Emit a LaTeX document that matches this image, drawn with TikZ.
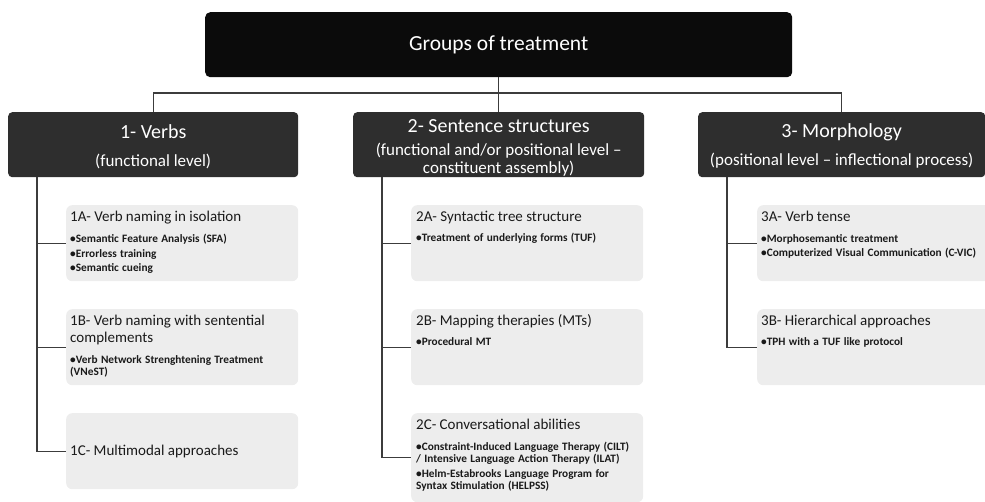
\documentclass[tikz,border=0pt]{standalone}
\usepackage{fontspec}
\setmainfont{Carlito}
\definecolor{topfill}{HTML}{0B0B0B}
\definecolor{grpfill}{HTML}{2E2E2E}
\definecolor{subfill}{HTML}{EDEDED}
\definecolor{linecol}{HTML}{3C3C3C}
\definecolor{subtext}{HTML}{1A1A1A}
\newcommand{\itm}[1]{\par\hangindent=5pt\hangafter=1\textbullet#1}
\newcommand{\subttl}[1]{{\fontsize{15}{17}\selectfont\rule{0pt}{12pt}#1\par}}
\newcommand{\blist}{\setlength{\parskip}{2.4pt}\vspace{6pt}\fontsize{11.3}{12.6}\bfseries\selectfont}
\begin{document}
\begin{tikzpicture}[x=1pt,y=-1pt,
 topbox/.style={fill=topfill, rounded corners=5pt, inner sep=0pt, anchor=north west, text=white, font=\fontsize{21.5}{25}\selectfont},
 grpbox/.style={fill=grpfill, rounded corners=4pt, inner sep=0pt, anchor=north west, text=white, align=center, minimum height=65pt, font=\fontsize{17}{18}\selectfont},
 subbox/.style={fill=subfill, rounded corners=6pt, inner sep=0pt, anchor=north west, minimum width=232pt, minimum height=76pt},
 subtxt/.style={anchor=north west, inner sep=0pt, text width=222pt, align=left, text=subtext},
 conn/.style={draw=linecol, line width=1.2pt},
]
\useasboundingbox (0,0) rectangle (985,502);
% top
\node[topbox, minimum width=587pt, minimum height=65pt] (top) at (205,12) {Groups of treatment};
% groups
\node[grpbox, minimum width=290pt] (g1) at (8,112) {{\fontsize{20}{24}\selectfont\rule{0pt}{17pt}1- Verbs}\\[10pt](functional level)};
\node[grpbox, minimum width=291pt] (g2) at (353,112) {{\fontsize{20}{24}\selectfont\rule{0pt}{19pt}2- Sentence structures}\\[5.5pt](functional and/or positional level --\\constituent assembly)};
\node[grpbox, minimum width=287pt] (g3) at (698,112) {{\fontsize{20}{24}\selectfont\rule{0pt}{17pt}3- Morphology}\\[10pt](positional level -- inflectional process)};
% sub boxes
\node[subbox] (b1A) at (66,205) {};
\node[subbox] (b1B) at (66,309) {};
\node[subbox] (b1C) at (66,413) {};
\node[subbox] (b2A) at (411,205) {};
\node[subbox] (b2B) at (411,309) {};
\node[subbox, minimum height=89pt] (b2C) at (411,413) {};
\node[subbox, minimum width=240pt] (b3A) at (757,205) {};
\node[subbox, minimum width=240pt] (b3B) at (757,309) {};
% texts
\node[subtxt] (t1A) at (70,209) {\subttl{1A- Verb naming in isolation}\blist
 \itm{Semantic Feature Analysis (SFA)}\itm{Errorless training}\itm{Semantic cueing}};
\node[subtxt] (t1B) at (70,313) {\subttl{1B- Verb naming with sentential\\complements}\blist
 \itm{Verb Network Strenghtening Treatment\\(VNeST)}};
\node[subtxt] (t1C) at (70,443) {\subttl{1C- Multimodal approaches}};
\node[subtxt] (t2A) at (416,209) {\subttl{2A- Syntactic tree structure}\blist
 \itm{Treatment of underlying forms (TUF)}};
\node[subtxt] (t2B) at (416,313) {\subttl{2B- Mapping therapies (MTs)}\blist
 \itm{Procedural MT}};
\node[subtxt] (t2C) at (416,417) {\subttl{2C- Conversational abilities}\blist
 \itm{Constraint-Induced Language Therapy (CILT)\\/ Intensive Language Action Therapy (ILAT)}
 \itm{Helm-Estabrooks Language Program for\\Syntax Stimulation (HELPSS)}};
\node[subtxt] (t3A) at (761,209) {\subttl{3A- Verb tense}\blist
 \itm{Morphosemantic treatment}\itm{Computerized Visual Communication (C-VIC)}};
\node[subtxt] (t3B) at (761,313) {\subttl{3B- Hierarchical approaches}\blist
 \itm{TPH with a TUF like protocol}};
% connectors
\coordinate (bus) at (0,93);
\draw[conn] (top.south) -- (g2.north);
\draw[conn] (g1.north) |- (g3.north |- bus) -- (g3.north);
\coordinate (s1) at (37,177);
\coordinate (s2) at (382,177);
\coordinate (s3) at (727,177);
\draw[conn] (s1) |- (b1C.west);
\draw[conn] (s1 |- b1A.west) -- (b1A.west);
\draw[conn] (s1 |- b1B.west) -- (b1B.west);
\draw[conn] (s2) |- (b2C.west);
\draw[conn] (s2 |- b2A.west) -- (b2A.west);
\draw[conn] (s2 |- b2B.west) -- (b2B.west);
\draw[conn] (s3) |- (b3B.west);
\draw[conn] (s3 |- b3A.west) -- (b3A.west);
\end{tikzpicture}
\end{document}
